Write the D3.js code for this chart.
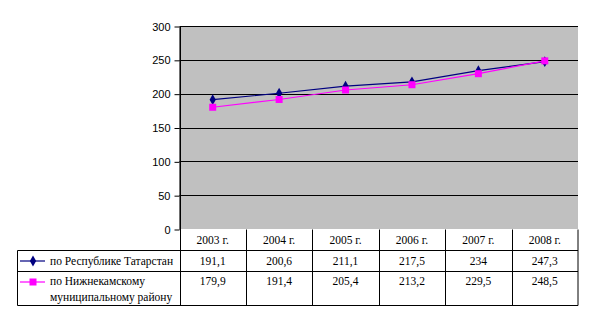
<!DOCTYPE html>
<html><head><meta charset="utf-8">
<script src="https://cdn.jsdelivr.net/npm/d3@7"></script>
<style>body{margin:0;background:#fff}svg{display:block}
.serif{font-family:"Liberation Serif","Times New Roman",serif;font-size:11.5px}
.sans{font-family:"Liberation Sans",Arial,sans-serif;font-size:11px}</style>
</head><body>
<svg id="c" width="595" height="323"></svg>
<script>
const categories = ["2003 г.","2004 г.","2005 г.","2006 г.","2007 г.","2008 г."];
const seriesNames = ["по Республике Татарстан", "по Нижнекамскому муниципальному району"];
const tatarstan = [191.1, 200.6, 211.1, 217.5, 234, 247.3];
const nizhnekamsk = [179.9, 191.4, 205.4, 213.2, 229.5, 248.5];
const yTicks = [0, 50, 100, 150, 200, 250, 300];
const fmt = v => String(v).replace(".", ",");

const svg = d3.select("#c");
const L = 179.5, R = 578, T = 26, B = 229;
const x = d3.scaleBand().domain(categories).range([L, R]);
const y = d3.scaleLinear().domain([0, 300]).range([B, T]);

svg.append("rect").attr("x", L).attr("y", T).attr("width", R - L).attr("height", B - T).attr("fill", "#c0c0c0");
svg.append("g").selectAll("line").data(yTicks.filter(d => d > 0)).join("line")
  .attr("x1", L).attr("x2", R).attr("y1", d => Math.round(y(d)) + 0.5).attr("y2", d => Math.round(y(d)) + 0.5)
  .attr("stroke", "#000").attr("stroke-width", 1);

const yAxis = d3.axisLeft(y).tickValues(yTicks).tickSize(5).tickSizeOuter(0);
const ga = svg.append("g").attr("transform", `translate(${L},0.5)`).call(yAxis);
ga.attr("font-family", null).attr("font-size", null);
ga.select(".domain").attr("stroke", "#000");
ga.selectAll(".tick line").attr("stroke", "#000");
ga.selectAll(".tick text").attr("class", "sans").attr("fill", "#000").attr("x", -9);

const cx = d => x(d) + x.bandwidth() / 2;
const line = vals => d3.line().x((d, i) => cx(categories[i])).y(d => y(d))(vals);
svg.append("path").attr("d", line(tatarstan)).attr("fill", "none").attr("stroke", "#000080").attr("stroke-width", 1.2);
svg.append("path").attr("d", line(nizhnekamsk)).attr("fill", "none").attr("stroke", "#ff00ff").attr("stroke-width", 1.2);
const diamond = d3.symbol().type(d3.symbolDiamond).size(34);
svg.append("g").selectAll("path").data(tatarstan).join("path")
  .attr("d", diamond).attr("transform", (d, i) => `translate(${cx(categories[i])},${y(d)})`).attr("fill", "#000080");
svg.append("g").selectAll("rect").data(nizhnekamsk).join("rect")
  .attr("x", (d, i) => cx(categories[i]) - 3.5).attr("y", d => y(d) - 3.5).attr("width", 7).attr("height", 7).attr("fill", "#ff00ff");

// Data table
const TL = 17.5, rowY = [229.5, 250.5, 271.5, 305.5];
const tg = svg.append("g").attr("stroke", "#000").attr("stroke-width", 1).attr("fill", "none");
tg.append("line").attr("x1", TL).attr("x2", R).attr("y1", rowY[1]).attr("y2", rowY[1]);
tg.append("line").attr("x1", TL).attr("x2", R).attr("y1", rowY[2]).attr("y2", rowY[2]);
tg.append("line").attr("x1", TL).attr("x2", R).attr("y1", rowY[3]).attr("y2", rowY[3]);
tg.append("line").attr("x1", TL).attr("x2", TL).attr("y1", rowY[1]).attr("y2", rowY[3]);
const vx = categories.map(c => Math.round(x(c)) + 0.5).concat([R]);
vx.forEach((v, i) => tg.append("line").attr("x1", v).attr("x2", v).attr("y1", i === 0 ? T : rowY[0]).attr("y2", rowY[3]));

svg.append("g").selectAll("text").data(categories).join("text").attr("class", "serif")
  .attr("x", d => cx(d)).attr("y", 244).attr("text-anchor", "middle").text(d => d);
svg.append("g").selectAll("text").data(tatarstan).join("text").attr("class", "serif")
  .attr("x", (d, i) => cx(categories[i])).attr("y", 265).attr("text-anchor", "middle").text(fmt);
svg.append("g").selectAll("text").data(nizhnekamsk).join("text").attr("class", "serif")
  .attr("x", (d, i) => cx(categories[i])).attr("y", 285).attr("text-anchor", "middle").text(fmt);

// Legend keys
svg.append("line").attr("x1", 20).attr("x2", 45).attr("y1", 261).attr("y2", 261).attr("stroke", "#000080").attr("stroke-width", 1.2);
svg.append("path").attr("d", diamond).attr("transform", "translate(33,261)").attr("fill", "#000080");
svg.append("line").attr("x1", 20).attr("x2", 45).attr("y1", 282).attr("y2", 282).attr("stroke", "#ff00ff").attr("stroke-width", 1.2);
svg.append("rect").attr("x", 29.5).attr("y", 278.5).attr("width", 7).attr("height", 7).attr("fill", "#ff00ff");
svg.append("text").attr("class", "serif").attr("x", 50).attr("y", 265).text(seriesNames[0]);
const t2 = svg.append("text").attr("class", "serif").attr("x", 50).attr("y", 285);
t2.append("tspan").attr("x", 50).text("по Нижнекамскому");
t2.append("tspan").attr("x", 50).attr("dy", 16).text("муниципальному району");
</script>
</body></html>
